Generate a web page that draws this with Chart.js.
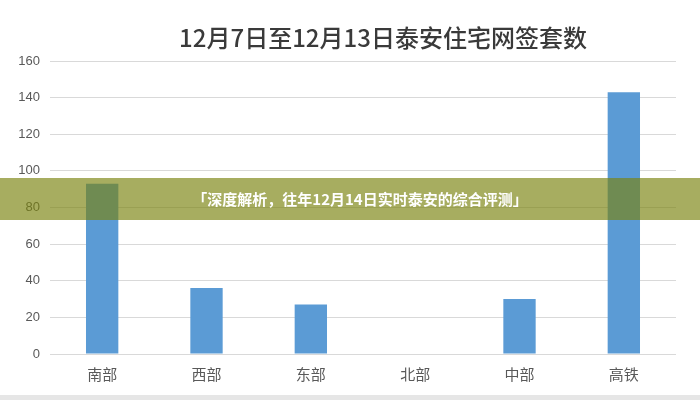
<!DOCTYPE html>
<html lang="zh">
<head>
<meta charset="UTF-8" />
<title>12月7日至12月13日泰安住宅网签套数</title>
<script src="https://cdn.jsdelivr.net/npm/chart.js@4.4.0/dist/chart.umd.min.js"></script>
<style>
  html,body{margin:0;padding:0;background:#fff}
  .wrap{position:relative;width:700px;height:400px;overflow:hidden}
  .wrap canvas{display:block}
  .foot{position:absolute;left:0;right:0;bottom:0;height:5px;background:#e6e6e6}
</style>
</head>
<body>
<div class="wrap">
  <canvas id="c" width="700" height="400"></canvas>
  <div class="foot"></div>
</div>
<script>
// ---- data ----
const chartTitle = '12月7日至12月13日泰安住宅网签套数';
const bannerText = '「深度解析，往年12月14日实时泰安的综合评测」';
const categories = ['南部', '西部', '东部', '北部', '中部', '高铁'];
const counts = [93, 36, 27, 0, 30, 143];
const yMin = 0, yMax = 160, yStep = 20;

const CJK = '"Noto Sans CJK SC","Microsoft YaHei",sans-serif';

/* title drawn by hand: it sits a bit right of the plot centre in the original */
const titlePlugin = {
  id: 'bigTitle',
  afterDraw(c) {
    const ctx = c.ctx;
    ctx.save();
    ctx.font = '500 24px ' + CJK;
    ctx.fillStyle = '#3a3a3a';
    ctx.textAlign = 'center';
    ctx.textBaseline = 'middle';
    ctx.fillText(chartTitle, 383, 38);
    ctx.restore();
  }
};

/* translucent olive strip with white caption across the middle */
const bannerPlugin = {
  id: 'banner',
  afterDraw(c) {
    const ctx = c.ctx, w = c.width;
    ctx.save();
    ctx.fillStyle = 'rgba(121,130,14,0.66)';
    ctx.fillRect(0, 178, w, 42);
    ctx.font = 'bold 15px ' + CJK;
    ctx.fillStyle = '#ffffff';
    ctx.textAlign = 'center';
    ctx.textBaseline = 'middle';
    ctx.fillText(bannerText, 360, 199);
    ctx.restore();
  }
};

new Chart(document.getElementById('c'), {
  type: 'bar',
  data: {
    labels: categories,
    datasets: [{
      data: counts,
      backgroundColor: '#5b9bd5',
      borderWidth: 0,
      barPercentage: 0.62,
      categoryPercentage: 0.5
    }]
  },
  options: {
    responsive: false,
    animation: false,
    devicePixelRatio: 1,
    layout: { padding: { top: 61, right: 24, left: 0, bottom: 0 } },
    plugins: { legend: { display: false }, title: { display: false }, tooltip: { enabled: false } },
    scales: {
      x: {
        grid: { display: false, drawTicks: false },
        border: { display: false },
        ticks: { color: '#595959', font: { family: CJK, size: 15 }, padding: 11 },
        afterFit: s => { s.height = 46; }
      },
      y: {
        min: yMin, max: yMax,
        grid: { color: '#d9d9d9', lineWidth: 1, drawTicks: false },
        border: { display: false },
        ticks: { stepSize: yStep, color: '#595959', font: { family: 'Liberation Sans, Arial, sans-serif', size: 13 }, padding: 10 },
        afterFit: s => { s.width = 50; }
      }
    }
  },
  plugins: [titlePlugin, bannerPlugin]
});
</script>
</body>
</html>
